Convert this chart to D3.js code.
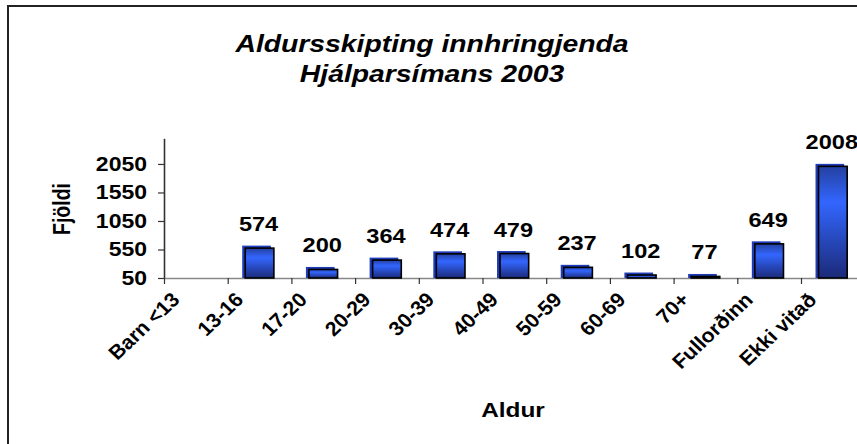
<!DOCTYPE html>
<html>
<head>
<meta charset="utf-8">
<script src="https://cdn.jsdelivr.net/npm/d3@7"></script>
<style>
  body { margin: 0; background: #fff; }
  svg { display: block; font-family: "Liberation Sans", Arial, sans-serif; font-weight: bold; }
</style>
</head>
<body>
<script>
const categories = ["Barn <13", "13-16", "17-20", "20-29", "30-39", "40-49", "50-59", "60-69", "70+", "Fullorðinn", "Ekki vitað"];
const values = [null, 574, 200, 364, 474, 479, 237, 102, 77, 649, 2008];
const yTicks = [50, 550, 1050, 1550, 2050];
const titleLines = ["Aldursskipting innhringjenda", "Hjálparsímans 2003"];

const w = 857;
const h = 444;
const sx = 1.18; // the original picture is a bit stretched sideways

const data = categories.map((c, i) => ({ cat: c, value: values[i] }));

const svg = d3.select("body")
    .append("svg")
    .attr("width", w)
    .attr("height", h)

// chart border, runs off right and bottom
svg.append("rect")
    .attr("x", 8)
    .attr("y", 6)
    .attr("width", 920)
    .attr("height", 520)
    .attr("fill", "none")
    .attr("stroke", "#222")
    .attr("stroke-width", 2)

const xScale = d3.scaleBand()
    .domain(categories)
    .range([164, 864.7])
    .paddingInner(0.55)
    .paddingOuter(0.275)

const yScale = d3.scaleLinear()
    .domain([50, 2500])
    .range([278, 138.3])

const defs = svg.append("defs")
const grad = defs.append("linearGradient")
    .attr("id", "barGrad")
    .attr("x1", 0).attr("y1", 0).attr("x2", 0).attr("y2", 1)
grad.append("stop").attr("offset", "0%").attr("stop-color", "#2440a0")
grad.append("stop").attr("offset", "32%").attr("stop-color", "#3366ff")
grad.append("stop").attr("offset", "100%").attr("stop-color", "#1b2a78")

// Title
svg.selectAll(".title")
    .data(titleLines)
    .enter()
    .append("text")
      .attr("class", "title")
      .attr("transform", (d, i) => `translate(432,${52 + i * 30}) scale(${sx},1)`)
      .attr("text-anchor", "middle")
      .style("font-style", "italic")
      .style("font-size", "24px")
      .text(d => d)

// Left axis
const yAxis = svg.append("g")
    .attr("transform", "translate(164,0)")
    .call(d3.axisLeft(yScale).tickValues(yTicks).tickSize(6).tickSizeOuter(0).tickFormat(d3.format("d")))
yAxis.select(".domain").attr("stroke", "#333").attr("stroke-width", 1.6)
yAxis.selectAll(".tick line").attr("stroke", "#333").attr("stroke-width", 1.2)
yAxis.selectAll(".tick text")
    .attr("x", -17 / sx)
    .attr("transform", `scale(${sx},1)`)
    .style("font-size", "19.5px")
    .style("font-family", "Liberation Sans, Arial, sans-serif")
    .style("font-weight", "bold")
    .attr("fill", "#000")

// Bottom axis: ticks sit between categories
const xEdge = d3.scaleLinear().domain([0, categories.length]).range(xScale.range())
const xAxis = svg.append("g")
    .attr("transform", "translate(0,278)")
    .call(d3.axisBottom(xEdge).tickValues(d3.range(categories.length + 1)).tickSize(6).tickSizeOuter(0).tickFormat(""))
xAxis.select(".domain").attr("stroke", "#888").attr("stroke-width", 1.3)
xAxis.selectAll(".tick line").attr("stroke", "#333").attr("stroke-width", 1.2)

// category labels
const xLabels = svg.append("g")
    .attr("transform", "translate(0,278)")
    .call(d3.axisBottom(xScale).tickSize(0))
xLabels.select(".domain").remove()
xLabels.selectAll(".tick text")
    .attr("x", 0)
    .attr("y", 0)
    .attr("dy", 0)
    .attr("text-anchor", "end")
    .attr("transform", `translate(-15,23) scale(1.06,1) rotate(-45)`)
    .style("font-size", "20px")
    .style("font-family", "Liberation Sans, Arial, sans-serif")
    .style("font-weight", "bold")
    .attr("fill", "#000")

const shown = data.filter(d => d.value != null)

// back face of the bars
svg.selectAll(".back")
    .data(shown)
    .enter()
    .append("rect")
      .attr("class", "back")
      .attr("x", d => xScale(d.cat) - 3)
      .attr("y", d => yScale(d.value) - 2.5)
      .attr("width", xScale.bandwidth())
      .attr("height", d => yScale(50) - yScale(d.value) + 2.5)
      .attr("fill", "#1f3db8")

// front face
svg.selectAll(".bar")
    .data(shown)
    .enter()
    .append("rect")
      .attr("class", "bar")
      .attr("x", d => xScale(d.cat))
      .attr("y", d => yScale(d.value))
      .attr("width", xScale.bandwidth())
      .attr("height", d => yScale(50) - yScale(d.value))
      .attr("fill", "url(#barGrad)")
      .attr("stroke", "#000")
      .attr("stroke-width", 1.6)

// value labels
svg.selectAll(".val")
    .data(shown)
    .enter()
    .append("text")
      .attr("class", "val")
      .attr("transform", d => `translate(${xScale(d.cat) + xScale.bandwidth() / 2 - 1},${yScale(d.value) - 17}) scale(${sx},1)`)
      .attr("text-anchor", "middle")
      .style("font-size", "20px")
      .text(d => d.value)

// axis titles
svg.append("text")
    .attr("transform", `translate(70,209) scale(${sx},1) rotate(-90)`)
    .attr("text-anchor", "middle")
    .style("font-size", "19.5px")
    .text("Fjöldi")

svg.append("text")
    .attr("transform", `translate(513,417) scale(1.25,1)`)
    .attr("text-anchor", "middle")
    .style("font-size", "19.5px")
    .text("Aldur")
</script>
</body>
</html>
